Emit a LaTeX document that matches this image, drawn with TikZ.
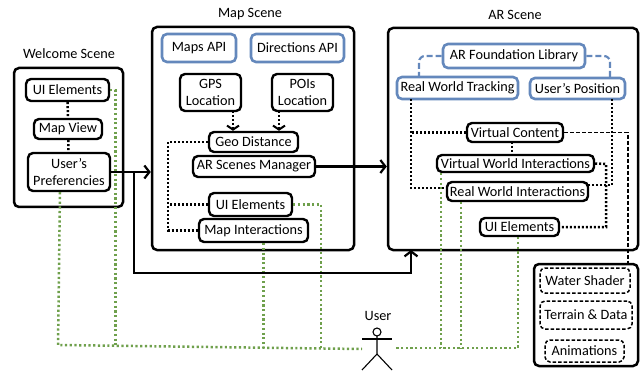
\documentclass[tikz,border=0pt]{standalone}
\usepackage{fontspec}
\setmainfont{Carlito}
\usetikzlibrary{arrows.meta}
\definecolor{apiblue}{HTML}{6488BC}
\definecolor{usergreen}{HTML}{6FA04C}
\tikzset{
  scenebox/.style={draw, line width=2.5pt, rounded corners=5pt, inner sep=0pt},
  partbox/.style={draw, fill=white, line width=2.4pt, rounded corners=5pt, inner sep=0pt, align=center},
  apibox/.style={draw=apiblue, fill=white, line width=2.6pt, rounded corners=5pt, inner sep=0pt},
  assetbox/.style={draw, line width=1.5pt, dash pattern=on 3.5pt off 2pt, rounded corners=5pt, inner sep=0pt},
  flowline/.style={line width=2.4pt, -{Straight Barb[length=5pt,width=13pt,line width=2.2pt]}},
  linkline/.style={line width=2.5pt, dash pattern=on 2pt off 2pt},
  linkarrow/.style={linkline, -{Straight Barb[length=4pt,width=12pt,line width=2pt]}},
  userline/.style={usergreen, line width=2.5pt, dash pattern=on 2.2pt off 2.5pt},
  libline/.style={apiblue, line width=2.2pt, dash pattern=on 6pt off 3pt, rounded corners=6pt},
  assetline/.style={line width=1.4pt, dash pattern=on 4pt off 2pt},
  figureline/.style={line width=1.1pt},
}
\begin{document}
\begin{tikzpicture}[x=1pt, y=-1pt, font=\fontsize{14.25}{17.5}\selectfont]
      \useasboundingbox (0, 0) rectangle (644, 371);

      % scene frames
      \draw (68.5, 137.5) node [scenebox, minimum width=109pt, minimum height=139pt] (welcome) {};
      \draw (253, 138.5) node [scenebox, minimum width=202pt, minimum height=223pt] (map) {};
      \draw (513, 139) node [scenebox, minimum width=250pt, minimum height=222pt] (ar) {};
      \draw (586, 315) node [scenebox, minimum width=104pt, minimum height=102pt] (assets) {};
      \draw (69, 54) node (welcometitle) {Welcome Scene};
      \draw (250, 14) node (maptitle) {Map Scene};
      \draw (515, 15) node (artitle) {AR Scene};

      % corners and feet of the lines
      \coordinate (userleft) at (362, 349);
      \coordinate (userright) at (396, 348);
      \coordinate (welcomecorner) at (58, 345);
      \coordinate (welcomeright) at (115.5, 345);
      \coordinate (mapfoot) at (263.5, 348);
      \coordinate (mapright) at (321, 348);
      \coordinate (virtualfoot) at (441, 348);
      \coordinate (realfoot) at (461, 348);
      \coordinate (arcorner) at (518, 348);
      \coordinate (flowsplit) at (134, 172);
      \coordinate (flowcorner) at (134, 273);
      \coordinate (arentry) at (411, 250);
      \coordinate (mapspine) at (168, 142);
      \coordinate (gpsline) at (233, 111);
      \coordinate (poisline) at (279, 111);
      \coordinate (trackline) at (411, 99);
      \coordinate (contentline) at (512, 142);
      \coordinate (positionline) at (612, 99);
      \coordinate (realright) at (588, 185);
      \coordinate (realleft) at (447, 188);
      \coordinate (uispine) at (606, 164);
      \coordinate (assetcorner) at (628, 132.5);
      \coordinate (libleft) at (419, 77);
      \coordinate (libright) at (610, 77);

      % welcome scene
      \draw (67.5, 90) node [partbox, minimum width=83pt, minimum height=22pt] (uiwelcome) {UI Elements};
      \draw (68, 129) node [partbox, minimum width=68pt, minimum height=20pt] (mapview) {Map View};
      \draw (69, 172) node [partbox, minimum width=82pt, minimum height=38pt] (prefs) {User's\\Preferencies};

      % map scene
      \draw (199, 48) node [apibox, minimum width=74pt, minimum height=28pt] (mapsapi) {Maps API};
      \draw (297.5, 48) node [apibox, minimum width=93pt, minimum height=28pt] (directionsapi) {Directions API};
      \draw (210.5, 92.5) node [partbox, minimum width=61pt, minimum height=37pt] (gps) {GPS\\Location};
      \draw (302.5, 92.5) node [partbox, minimum width=61pt, minimum height=37pt] (pois) {POIs\\Location};
      \draw (253.5, 142) node [partbox, minimum width=89pt, minimum height=20pt] (geo) {Geo Distance};
      \draw (254, 166.5) node [partbox, minimum width=122pt, minimum height=21pt] (manager) {AR Scenes Manager};
      \draw (250.5, 204.5) node [partbox, minimum width=83pt, minimum height=23pt] (uimap) {UI Elements};
      \draw (253.5, 230.5) node [partbox, minimum width=109pt, minimum height=23pt] (interactions) {Map Interactions};

      % ar scene
      \draw (514, 56) node [apibox, minimum width=142pt, minimum height=24pt] (foundation) {AR Foundation Library};
      \draw (457.5, 88) node [apibox, minimum width=121pt, minimum height=22pt] (tracking) {Real World Tracking};
      \draw (577.5, 88.5) node [apibox, minimum width=95pt, minimum height=21pt] (position) {User's Position};
      \draw (515, 132.5) node [partbox, minimum width=96pt, minimum height=19pt] (content) {Virtual Content};
      \draw (515.5, 163.5) node [partbox, minimum width=157pt, minimum height=17pt] (virtual) {Virtual World Interactions};
      \draw (517.5, 191.5) node [partbox, minimum width=141pt, minimum height=19pt] (real) {Real World Interactions};
      \draw (519.5, 227) node [partbox, minimum width=79pt, minimum height=18pt] (uiar) {UI Elements};

      % assets
      \draw (585, 280.5) node [assetbox, minimum width=90pt, minimum height=25pt] (water) {Water Shader};
      \draw (586, 315) node [assetbox, minimum width=92pt, minimum height=28pt] (terrain) {Terrain \& Data};
      \draw (584.5, 351) node [assetbox, minimum width=79pt, minimum height=22pt] (animations) {Animations};

      % user
      \draw (378, 316) node (usertitle) {User};
      \draw [figureline] (377, 332) circle (4pt);
      \draw [figureline] (362, 339) -- (392, 339);
      \draw [figureline] (377, 336) -- (377, 354) -- (362, 370);
      \draw [figureline] (377, 354) -- (392, 370);

      % green lines
      \draw [userline] ([xshift=-9pt]prefs.south) -- (welcomecorner) -- (userleft);
      \draw [userline] (uiwelcome.east) -| (welcomeright);
      \draw [userline] (interactions.south -| mapfoot) -- (mapfoot);
      \draw [userline] (uimap.east) -| (mapright);
      \draw [userline] (uiar.south -| arcorner) -- (arcorner) -- (userright);
      \draw [userline] (virtual.south -| virtualfoot) -- (virtualfoot);
      \draw [userline] (real.south -| realfoot) -- (realfoot);

      % scene flow
      \draw [flowline] (prefs.east) -- (prefs.east -| map.west);
      \draw [flowline] (flowsplit) -- (flowcorner) -- (flowcorner -| arentry) -- (arentry);
      \draw [flowline] (manager.east) -- (manager.east -| ar.west);

      % dotted links
      \draw [linkline] (uiwelcome) -- (mapview);
      \draw [linkline] (mapview) -- (prefs);
      \draw [linkarrow] (gpsline) -- (gpsline |- geo.north);
      \draw [linkarrow] (poisline) -- (poisline |- geo.north);
      \draw [linkline] (geo.west) -- (mapspine) -- (mapspine |- interactions.west) -- (interactions.west);
      \draw [linkline] (uimap.west) -- (mapspine |- uimap.west);
      \draw [linkline] (trackline) -- (trackline |- realleft) -- (realleft);
      \draw [linkline] (content.west) -- (trackline |- content.west);
      \draw [linkline] (contentline) -- (contentline |- virtual.north);
      \draw [linkline] (positionline) -- (positionline |- realright) -- (realright);
      \draw [linkline] (virtual.east) -- (uispine) -- (uispine |- uiar.east) -- (uiar.east);

      % library and asset lines
      \draw [libline] (foundation.west) -| (libleft);
      \draw [libline] (foundation.east) -| (libright);
      \draw [assetline] (content.east) -- (assetcorner) -- (assetcorner |- assets.north);
\end{tikzpicture}
\end{document}
